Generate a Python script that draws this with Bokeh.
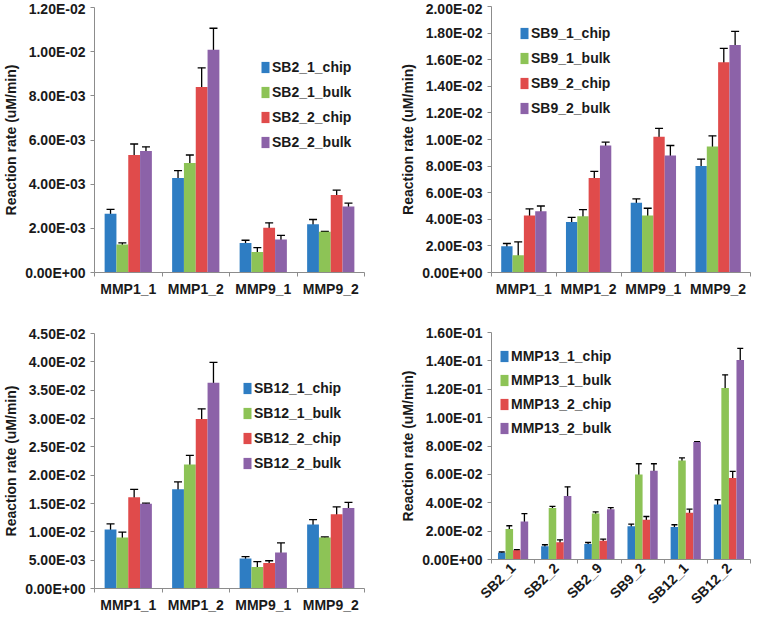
import numpy as np
from bokeh.plotting import figure
from bokeh.models import (ColumnDataSource, Whisker, TeeHead, FixedTicker, Range1d,
                          Legend, LegendItem, CustomJSTickFormatter)
from bokeh.layouts import column, row
from bokeh.embed import file_html
from bokeh.resources import INLINE

# ---------------- data ----------------
mmp_cats = ["MMP1_1", "MMP1_2", "MMP9_1", "MMP9_2"]

sb2_names = ["SB2_1_chip", "SB2_1_bulk", "SB2_2_chip", "SB2_2_bulk"]
sb2_vals = [
    [2.66e-3, 4.28e-3, 1.34e-3, 2.18e-3],
    [1.27e-3, 4.96e-3, 0.93e-3, 1.84e-3],
    [5.32e-3, 8.40e-3, 2.03e-3, 3.51e-3],
    [5.50e-3, 10.09e-3, 1.49e-3, 2.99e-3],
]
sb2_errs = [
    [0.20e-3, 0.33e-3, 0.12e-3, 0.22e-3],
    [0.07e-3, 0.36e-3, 0.20e-3, 0.02e-3],
    [0.50e-3, 0.87e-3, 0.22e-3, 0.22e-3],
    [0.19e-3, 0.97e-3, 0.19e-3, 0.15e-3],
]
sb2_yticks = [0.0, 0.002, 0.004, 0.006, 0.008, 0.010, 0.012]

sb9_names = ["SB9_1_chip", "SB9_1_bulk", "SB9_2_chip", "SB9_2_bulk"]
sb9_vals = [
    [1.98e-3, 3.80e-3, 5.25e-3, 8.00e-3],
    [1.30e-3, 4.23e-3, 4.28e-3, 9.48e-3],
    [4.28e-3, 7.10e-3, 10.20e-3, 15.80e-3],
    [4.60e-3, 9.55e-3, 8.80e-3, 17.10e-3],
]
sb9_errs = [
    [0.20e-3, 0.35e-3, 0.28e-3, 0.53e-3],
    [1.00e-3, 0.50e-3, 0.55e-3, 0.80e-3],
    [0.50e-3, 0.50e-3, 0.63e-3, 1.05e-3],
    [0.40e-3, 0.25e-3, 0.75e-3, 1.03e-3],
]
sb9_yticks = [0.0, 0.002, 0.004, 0.006, 0.008, 0.010, 0.012, 0.014, 0.016, 0.018, 0.020]

sb12_names = ["SB12_1_chip", "SB12_1_bulk", "SB12_2_chip", "SB12_2_bulk"]
sb12_vals = [
    [10.4e-3, 17.5e-3, 5.3e-3, 11.3e-3],
    [9.0e-3, 21.9e-3, 3.8e-3, 9.0e-3],
    [16.1e-3, 29.9e-3, 4.5e-3, 13.1e-3],
    [14.96e-3, 36.3e-3, 6.35e-3, 14.2e-3],
]
sb12_errs = [
    [1.0e-3, 1.3e-3, 0.34e-3, 0.85e-3],
    [0.96e-3, 1.6e-3, 0.96e-3, 0.1e-3],
    [1.4e-3, 1.8e-3, 0.4e-3, 1.3e-3],
    [0.1e-3, 3.6e-3, 1.7e-3, 1.0e-3],
]
sb12_yticks = [0.0, 0.005, 0.010, 0.015, 0.020, 0.025, 0.030, 0.035, 0.040, 0.045]

sb_cats = ["SB2_1", "SB2_2", "SB2_9", "SB9_2", "SB12_1", "SB12_2"]
mmp13_names = ["MMP13_1_chip", "MMP13_1_bulk", "MMP13_2_chip", "MMP13_2_bulk"]
mmp13_vals = [
    [4.8e-3, 9.4e-3, 11.0e-3, 23.5e-3, 22.9e-3, 38.7e-3],
    [21.5e-3, 36.3e-3, 32.5e-3, 60.0e-3, 69.8e-3, 120.8e-3],
    [6.5e-3, 12.1e-3, 13.2e-3, 28.0e-3, 33.0e-3, 57.5e-3],
    [26.7e-3, 44.8e-3, 35.5e-3, 62.5e-3, 82.8e-3, 140.6e-3],
]
mmp13_errs = [
    [0.5e-3, 1.0e-3, 1.0e-3, 1.5e-3, 1.6e-3, 3.4e-3],
    [2.3e-3, 1.2e-3, 1.0e-3, 7.5e-3, 1.8e-3, 9.4e-3],
    [0.5e-3, 1.8e-3, 1.2e-3, 2.3e-3, 2.5e-3, 4.6e-3],
    [5.7e-3, 6.4e-3, 1.0e-3, 5.0e-3, 0.3e-3, 8.2e-3],
]
mmp13_yticks = [0.0, 0.02, 0.04, 0.06, 0.08, 0.10, 0.12, 0.14, 0.16]

# ---------------- style ----------------
COLORS = ["#2E7DC3", "#8DC356", "#E04B4B", "#8C62A8"]
FONT = "Liberation Sans"
TXT = "#1a1a1a"
AXC = "#8c8c8c"
BAR_W = 0.175

fmt = CustomJSTickFormatter(code="""
var s = tick.toExponential(2);
var p = s.split('e');
var e = parseInt(p[1]);
var sign = e < 0 ? '-' : '+';
var a = Math.abs(e);
return p[0] + 'E' + sign + (a < 10 ? '0' : '') + a;
""")


def make_panel(cats, names, vals, errs, yticks, width, height, borders,
               legend_xy, legend_spacing, cap, rotate=False):
    n = len(cats)
    ml, mr, mt, mb = borders
    p = figure(width=width, height=height, output_backend="svg", toolbar_location=None,
               x_range=Range1d(-0.5, n - 0.5), y_range=Range1d(yticks[0], yticks[-1]),
               min_border_left=ml, min_border_right=mr, min_border_top=mt,
               min_border_bottom=mb)
    p.outline_line_color = None
    p.xgrid.visible = False
    p.ygrid.visible = False
    p.background_fill_color = None
    p.border_fill_color = "white"

    items = []
    base = np.arange(n)
    for k, (nm, v, e) in enumerate(zip(names, vals, errs)):
        x = base + (k - 1.5) * BAR_W
        v = np.array(v)
        e = np.array(e)
        src = ColumnDataSource(dict(x=x, top=v, up=v + e, lo=v - e))
        r = p.vbar(x="x", top="top", bottom=0, width=BAR_W, source=src,
                   fill_color=COLORS[k], line_color=None)
        w = Whisker(base="x", upper="up", lower="lo", source=src,
                    line_color="black", line_width=1.3,
                    upper_head=TeeHead(size=cap, line_color="black", line_width=1.3),
                    lower_head=TeeHead(size=cap, line_color="black", line_width=1.3))
        p.add_layout(w)
        items.append(LegendItem(label=nm, renderers=[r]))

    # x axis
    xa = p.xaxis[0]
    xa.ticker = FixedTicker(ticks=list(range(n)),
                            minor_ticks=[i - 0.5 for i in range(n + 1)])
    xa.major_label_overrides = {i: c for i, c in enumerate(cats)}
    xa.major_tick_out = 0
    xa.major_tick_in = 0
    xa.minor_tick_out = 4
    xa.minor_tick_in = 0
    xa.minor_tick_line_color = AXC
    xa.axis_line_color = AXC
    xa.major_label_text_font = FONT
    xa.major_label_text_font_style = "bold"
    xa.major_label_text_font_size = "14px"
    xa.major_label_text_color = TXT
    if rotate:
        xa.major_label_orientation = np.pi / 4
        xa.major_label_standoff = 2
    else:
        xa.major_label_standoff = 4

    # y axis
    ya = p.yaxis[0]
    ya.ticker = FixedTicker(ticks=yticks, minor_ticks=[])
    ya.formatter = fmt
    ya.major_tick_out = 4
    ya.major_tick_in = 0
    ya.minor_tick_out = 0
    ya.minor_tick_in = 0
    ya.major_tick_line_color = AXC
    ya.axis_line_color = AXC
    ya.major_label_text_font = FONT
    ya.major_label_text_font_style = "bold"
    ya.major_label_text_font_size = "14px"
    ya.major_label_text_color = TXT
    ya.major_label_standoff = 5
    ya.axis_label = "Reaction rate (uM/min)"
    ya.axis_label_text_font = FONT
    ya.axis_label_text_font_style = "bold"
    ya.axis_label_text_font_size = "14px"
    ya.axis_label_text_color = TXT
    ya.axis_label_standoff = 3

    leg = Legend(items=items, location=legend_xy, orientation="vertical",
                 padding=0, margin=0, spacing=legend_spacing,
                 glyph_width=10, glyph_height=14, label_height=14,
                 label_standoff=2, border_line_color=None,
                 background_fill_alpha=0,
                 label_text_font=FONT, label_text_font_style="bold",
                 label_text_font_size="14px", label_text_color=TXT)
    p.add_layout(leg)
    return p


p1 = make_panel(mmp_cats, sb2_names, sb2_vals, sb2_errs, sb2_yticks,
                380, 310, (87, 16, 7, 38), (166, 122), 9, 8)
p2 = make_panel(mmp_cats, sb9_names, sb9_vals, sb9_errs, sb9_yticks,
                386, 310, (110, 2, 6, 38), (28, 156), 9, 8)
p3 = make_panel(mmp_cats, sb12_names, sb12_vals, sb12_errs, sb12_yticks,
                380, 305, (86, 16, 23, 23), (148, 117), 9, 8)
p4 = make_panel(sb_cats, mmp13_names, mmp13_vals, mmp13_errs, mmp13_yticks,
                386, 305, (111, 16, 22, 54), (8, 123), 8, 6, rotate=True)

layout = row(column(p1, p3), column(p2, p4))
open("out.html", "w").write(file_html(layout, INLINE))
